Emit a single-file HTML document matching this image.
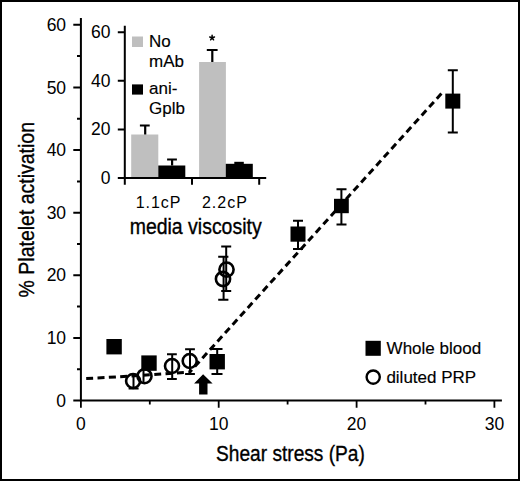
<!DOCTYPE html>
<html><head><meta charset="utf-8"><style>
html,body{margin:0;padding:0;background:#fff;}
svg{display:block;}
text{font-family:"Liberation Sans",sans-serif;fill:#000;}
.t{stroke:#000;stroke-width:0.35px;}
.l{stroke:#000;stroke-width:0.15px;}
</style></head><body>
<svg width="520" height="481" viewBox="0 0 520 481">
<rect x="0" y="0" width="520" height="481" fill="#fff"/>
<rect x="1" y="1" width="518" height="479" fill="none" stroke="#000" stroke-width="2"/>

<!-- main axes -->
<g stroke="#000" fill="none">
<path d="M80.9 17.9V401.6M80.9 400.6H501.9" stroke-width="2"/>
<path d="M73.3 24.8H81M73.3 87.4H81M73.3 150H81M73.3 212.7H81M73.3 275.3H81M73.3 337.9H81M73.3 400.6H81" stroke-width="2"/>
<path d="M77 56.1H81M77 118.7H81M77 181.4H81M77 244H81M77 306.6H81M77 369.3H81" stroke-width="2"/>
<path d="M80.9 400.6V407.7M218.7 400.6V407.7M356.6 400.6V407.7M494.4 400.6V407.7" stroke-width="1.8"/>
<path d="M149.8 400.6V404.6M287.6 400.6V404.6M425.5 400.6V404.6" stroke-width="1.8"/>
</g>
<g font-size="17.5" text-anchor="end">
<text x="66.1" y="30.9">60</text>
<text x="66.1" y="93.5">50</text>
<text x="66.1" y="156.1">40</text>
<text x="66.1" y="218.8">30</text>
<text x="66.1" y="281.4">20</text>
<text x="66.1" y="344">10</text>
<text x="66.1" y="406.7">0</text>
</g>
<g font-size="17.5" text-anchor="middle">
<text x="80.9" y="430">0</text>
<text x="218.7" y="430">10</text>
<text x="356.6" y="430">20</text>
<text x="494.4" y="430">30</text>
</g>
<text class="t" transform="translate(216.9 460.7) scale(0.87 1)" x="-1" font-size="22">Shear stress (Pa)</text>
<text class="t" transform="translate(34.3 296.5) rotate(-90) scale(0.886 1)" x="-1" font-size="22">% Platelet activation</text>

<!-- dashed fit line -->
<path d="M86.2 378.4C110 377.6 140 375.5 189.9 372" fill="none" stroke="#000" stroke-width="3" stroke-dasharray="7 4.38"/>
<path d="M441.4 93.6L189.9 372" fill="none" stroke="#000" stroke-width="3" stroke-dasharray="6.9 4.38"/>

<!-- error bars main -->
<g stroke="#000" stroke-width="2" fill="none">
<path d="M217.2 349V373.9M211.5 349H222.5M211.5 373.9H222.5"/>
<path d="M298 220.8V248.9M293 220.8H303M293 248.9H303"/>
<path d="M341.4 189.3V224.4M336.5 189.3H346.5M336.5 224.4H346.5"/>
<path d="M452.8 70.2V132.4M447.8 70.2H457.8M447.8 132.4H457.8"/>
<path d="M133.5 373V388.4M128.6 388.4H138.6"/>
<path d="M143.5 370V383"/>
<path d="M172.2 354.2V379.1M167 354.2H176.8M167 379.1H176.8"/>
<path d="M190 349.3V374M185.1 349.3H194.9M185.1 374H194.9"/>
<path d="M226.2 246.6V291M221.2 246.6H231.2M221.2 291H231.2"/>
<path d="M223.6 256.8V299.8M218.2 256.8H228.4M218.2 299.8H228.4"/>
</g>
<!-- squares -->
<g fill="#000">
<rect x="106.4" y="339" width="15.4" height="15.4"/>
<rect x="141.3" y="355.4" width="15.4" height="15.4"/>
<rect x="209.5" y="354" width="15.4" height="15.4"/>
<rect x="290.5" y="226.5" width="15" height="15.2"/>
<rect x="334" y="198.8" width="14.8" height="14.4"/>
<rect x="445.3" y="93.6" width="15" height="15"/>
</g>
<!-- circles -->
<g fill="none" stroke="#000" stroke-width="2.6">
<circle cx="133.1" cy="381" r="7"/>
<circle cx="144.5" cy="376.2" r="7"/>
<circle cx="172" cy="366" r="7"/>
<circle cx="189.7" cy="361" r="7"/>
<circle cx="226.5" cy="269.6" r="7.1"/>
<circle cx="223" cy="279" r="7.1"/>
</g>
<!-- arrow -->
<path d="M203.1 374.3L212.6 383.6H207.5V394.5H199.1V383.6H194.1Z" fill="#000"/>

<!-- legend main -->
<rect x="365.5" y="340.8" width="15.3" height="15" fill="#000"/>
<circle cx="373.2" cy="377.1" r="6.6" fill="none" stroke="#000" stroke-width="2.4"/>
<g font-size="17" class="l">
<text x="386.6" y="353.7">Whole blood</text>
<text x="386.4" y="382.7">diluted PRP</text>
</g>

<!-- inset -->
<g fill="#bfbfbf">
<rect x="131.2" y="134.5" width="27.1" height="43.5"/>
<rect x="199.1" y="62" width="26.8" height="116"/>
<rect x="132" y="36.5" width="11" height="10.5"/>
</g>
<g fill="#000">
<rect x="158.3" y="165.5" width="27" height="12.5"/>
<rect x="225.8" y="163.8" width="27" height="14.2"/>
<rect x="132" y="84.4" width="11" height="10.2"/>
</g>
<g stroke="#000" fill="none" stroke-width="2.2">
<path d="M145.2 134.5V125.5M139.9 125.5H149.7"/>
<path d="M172.1 165.5V159.5M167.1 159.5H176.9"/>
<path d="M212.3 62V50M206.8 50H217.6"/>
<path d="M234.3 162.9H243.8"/>
</g>
<g stroke="#000" fill="none" stroke-width="2">
<path d="M124.8 25.8V178.9M124.8 178H266.2"/>
<path d="M117.8 32.2H125M117.8 80.8H125M117.8 129.4H125M117.8 178H125"/>
<path d="M124.8 178V184.8M192 178V184.8M259.2 178V184.8"/>
</g>
<g font-size="17.5" text-anchor="end">
<text x="110.5" y="38.1">60</text>
<text x="110.5" y="86.7">40</text>
<text x="110.5" y="135.3">20</text>
<text x="110.5" y="183.9">0</text>
</g>
<path d="M212.1 37.8L212.10 35.30M212.1 37.8L214.48 37.03M212.1 37.8L213.57 39.82M212.1 37.8L210.63 39.82M212.1 37.8L209.72 37.03" stroke="#000" stroke-width="1.5" stroke-linecap="round" fill="none"/>
<g font-size="17" class="l">
<text x="149" y="47.1">No</text>
<text x="149" y="66.9">mAb</text>
<text x="149" y="94.3">ani-</text>
<text x="149" y="114.4">Gplb</text>
</g>
<g font-size="16" text-anchor="middle" letter-spacing="1">
<text x="158.6" y="207.6">1.1cP</text>
<text x="224.9" y="207.6">2.2cP</text>
</g>
<text class="t" transform="translate(131 233.8) scale(0.885 1)" x="-1.5" font-size="22">media viscosity</text>
</svg>
</body></html>
